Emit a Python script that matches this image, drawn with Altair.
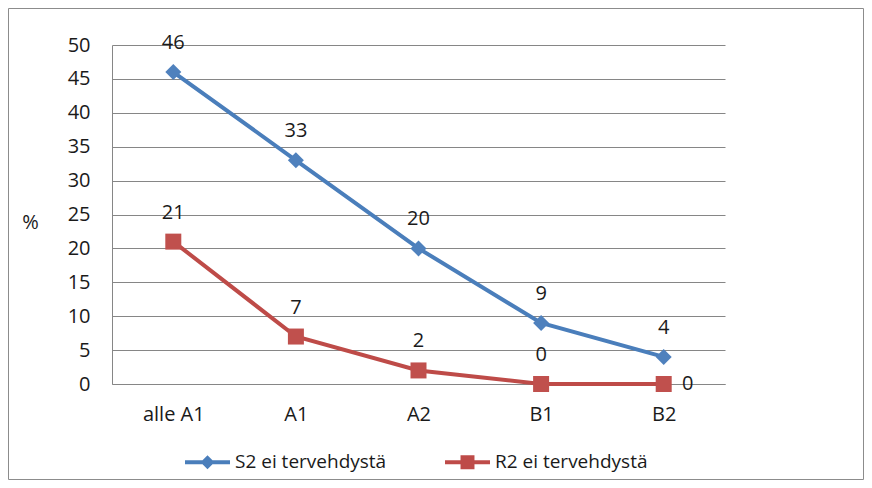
import altair as alt
import pandas as pd

categories = ["alle A1", "A1", "A2", "B1", "B2"]
s2_values = [46, 33, 20, 9, 4]
r2_values = [21, 7, 2, 0, 0]
series_names = ["S2 ei tervehdystä", "R2 ei tervehdystä"]
y_ticks = [0, 5, 10, 15, 20, 25, 30, 35, 40, 45, 50]

rows = []
for c, v in zip(categories, s2_values):
    rows.append({"cat": c, "value": v, "series": series_names[0]})
for c, v in zip(categories, r2_values):
    rows.append({"cat": c, "value": v, "series": series_names[1]})
df = pd.DataFrame(rows)

FONT = "Open Sans"
FS = 20
TXT = "#1a1a1a"
GRID = "#868686"
BLUE = "#4a7ebb"
RED = "#be4b48"
BLUE_MARK = "#4f81bd"
RED_MARK = "#c0504d"

color_scale = alt.Scale(domain=series_names, range=[BLUE, RED])

x_enc = alt.X(
    "cat:N", sort=categories,
    scale=alt.Scale(type="point", padding=0.5),
    axis=alt.Axis(title=None, labelAngle=0, ticks=False, tickSize=0, labelPadding=20,
                  domainColor=GRID, grid=False),
)
y_enc = alt.Y(
    "value:Q",
    scale=alt.Scale(domain=[0, 50], nice=False),
    axis=alt.Axis(values=y_ticks, title="%", titleAngle=0, titleX=-82, titleY=177,
                  titleAlign="center", titleBaseline="middle", titleFontWeight="normal",
                  titleFontSize=FS, titleColor=TXT, ticks=False, tickSize=0,
                  labelPadding=22, gridColor=GRID, domainColor=GRID),
)

base = alt.Chart(df)
s2_only = alt.datum.series == series_names[0]
r2_only = alt.datum.series == series_names[1]

frame = alt.Chart(alt.Data(values=[{"k": 1}])).mark_rect(
    fill=None, stroke="#8c8c8c", strokeWidth=1
).encode(
    x=alt.value(-103.5), x2=alt.value(751.5), y=alt.value(-36.5), y2=alt.value(434.5)
)

line_s2 = base.transform_filter(s2_only).mark_line(strokeWidth=4, color=BLUE).encode(
    x=x_enc, y=y_enc
)
line_r2 = base.transform_filter(r2_only).mark_line(strokeWidth=4, color=RED).encode(
    x=x_enc, y=y_enc
)

diamonds = base.transform_filter(s2_only).mark_point(
    shape="diamond", filled=True, size=256, color=BLUE_MARK, opacity=1
).encode(x=x_enc, y=y_enc)

squares = base.transform_filter(r2_only).mark_point(
    shape="square", filled=True, size=256, color=RED_MARK, opacity=1
).encode(x=x_enc, y=y_enc)

labels_above = base.transform_filter(
    ~((alt.datum.series == series_names[1]) & (alt.datum.cat == categories[-1]))
).mark_text(dy=-29, fontSize=FS, color=TXT, font=FONT).encode(
    x=x_enc, y=y_enc, text="value:Q"
)

labels_right = base.transform_filter(
    (alt.datum.series == series_names[1]) & (alt.datum.cat == categories[-1])
).mark_text(dx=24, fontSize=FS, color=TXT, font=FONT).encode(
    x=x_enc, y=y_enc, text="value:Q"
)

diamond_path = "M-1,-0.09L1,-0.09L1,0.09L-1,0.09Z M0,-0.31L0.31,0L0,0.31L-0.31,0Z"
square_path = "M-1,-0.09L1,-0.09L1,0.09L-1,0.09Z M-0.31,-0.31L0.31,-0.31L0.31,0.31L-0.31,0.31Z"

legend_props = dict(
    title=None, orient="none", legendX=73, legendY=394.5, direction="horizontal",
    symbolSize=2025, symbolStrokeWidth=0, labelOffset=5, columnPadding=58,
    labelFontSize=19, labelFont=FONT, labelColor=TXT, labelLimit=400, padding=0,
)

legend_layer = base.transform_filter(alt.datum.value < 0).mark_point(filled=True, opacity=1).encode(
    x=x_enc, y=y_enc,
    color=alt.Color("series:N", scale=color_scale, legend=alt.Legend(**legend_props)),
    shape=alt.Shape("series:N",
                    scale=alt.Scale(domain=series_names, range=[diamond_path, square_path]),
                    legend=alt.Legend(**legend_props)),
)

chart = alt.layer(
    frame, line_s2, line_r2, diamonds, squares, labels_above, labels_right, legend_layer
).properties(
    width=613, height=339,
    padding={"left": 104, "top": 37, "right": 139, "bottom": 96},
    autosize=alt.AutoSizeParams(type="none"),
    background="white",
).configure(font=FONT).configure_view(stroke=None).configure_axis(
    labelFontSize=FS, labelFont=FONT, labelColor=TXT
)

chart.save("out.html", embed_options={"renderer": "svg", "actions": False})
